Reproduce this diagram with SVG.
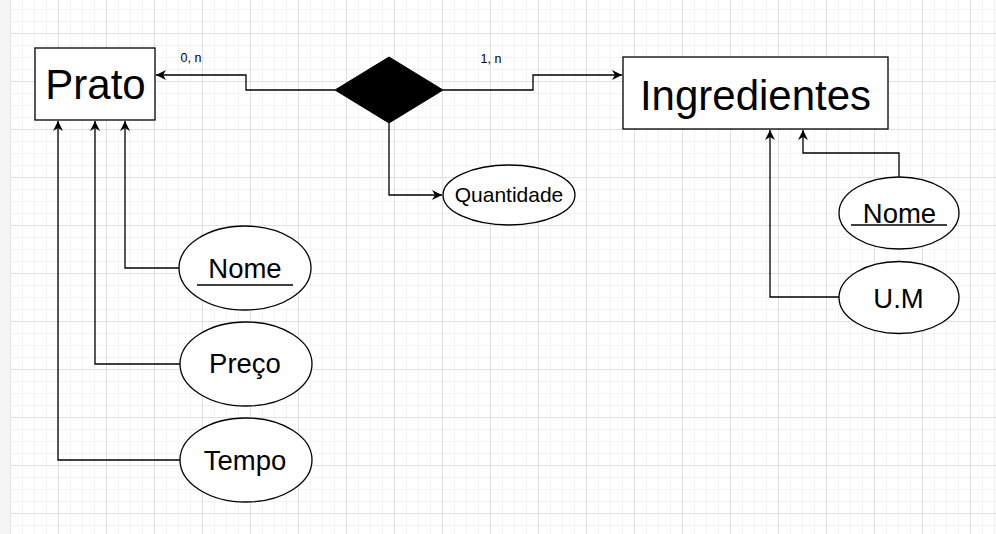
<svg xmlns="http://www.w3.org/2000/svg" width="996" height="534" viewBox="0 0 996 534">
<style>
.box{fill:#fff;stroke:#000;stroke-width:1.3}
.ell{fill:#fff;stroke:#000;stroke-width:1.3}
.conn{fill:none;stroke:#000;stroke-width:1.3}
text{font-family:"Liberation Sans",Arial,sans-serif;fill:#000;text-anchor:middle}
.big{font-size:42px}
.attr{font-size:27.5px}
.q{font-size:21px}
.card{font-size:12.5px}
</style>
<defs>
<pattern id="grid" x="10" y="33" width="48" height="48" patternUnits="userSpaceOnUse">
<path d="M12.5 0V48M24.5 0V48M36.5 0V48M0 12.5H48M0 24.5H48M0 36.5H48" stroke="#f3f3f3" stroke-width="1" fill="none"/>
<path d="M0.5 0V48M0 0.5H48" stroke="#e0e0e0" stroke-width="1" fill="none"/>
</pattern>
<marker id="arr" markerWidth="12" markerHeight="10" refX="10" refY="5" orient="auto" markerUnits="userSpaceOnUse">
<path d="M0,0 L10,5 L0,10 L3,5 Z" fill="#000"/>
</marker>
</defs>
<rect width="996" height="534" fill="#fff"/>
<rect width="996" height="534" fill="url(#grid)"/>
<rect x="0" y="0" width="10" height="534" fill="#f4f5f7"/>
<line x1="10.5" y1="0" x2="10.5" y2="534" stroke="#e6e6e6"/>

<g id="connectors">
<path class="conn" d="M335,90 H246 V75 H156" marker-end="url(#arr)"/>
<path class="conn" d="M443,90 H533 V75 H622" marker-end="url(#arr)"/>
<path class="conn" d="M389,123 V195 H442" marker-end="url(#arr)"/>
<path class="conn" d="M179,268 H125 V121" marker-end="url(#arr)"/>
<path class="conn" d="M180,364 H95 V121" marker-end="url(#arr)"/>
<path class="conn" d="M180,460 H58 V121" marker-end="url(#arr)"/>
<path class="conn" d="M899,177 V153 H803 V130" marker-end="url(#arr)"/>
<path class="conn" d="M839,297 H770 V130" marker-end="url(#arr)"/>
<text class="card" x="191" y="62">0, n</text>
<text class="card" x="491" y="63">1, n</text>
</g>

<g id="prato">
<rect class="box" x="35" y="48" width="120" height="72"/>
<text class="big" x="95.5" y="99">Prato</text>
</g>
<g id="relacao">
<polygon points="335,90 389,57 443,90 389,123" fill="#000" stroke="#000"/>
</g>
<g id="ingredientes">
<rect class="box" x="623" y="57" width="265" height="72"/>
<text class="big" x="755.5" y="110">Ingredientes</text>
</g>
<g id="quantidade">
<ellipse class="ell" cx="509" cy="195" rx="66" ry="30"/>
<text class="q" x="509" y="202">Quantidade</text>
</g>
<g id="nome-prato">
<ellipse class="ell" cx="245" cy="268" rx="66" ry="42"/>
<text class="attr" x="245" y="278">Nome</text>
<line x1="197" y1="285" x2="293" y2="285" stroke="#000" stroke-width="1.3"/>
</g>
<g id="preco">
<ellipse class="ell" cx="246" cy="364" rx="66" ry="42"/>
<text class="attr" x="245" y="373">Preço</text>
</g>
<g id="tempo">
<ellipse class="ell" cx="246" cy="460" rx="66" ry="42"/>
<text class="attr" x="245" y="470">Tempo</text>
</g>
<g id="nome-ingrediente">
<ellipse class="ell" cx="899" cy="213" rx="60" ry="36"/>
<text class="attr" x="899.5" y="223">Nome</text>
<line x1="851" y1="225" x2="947" y2="225" stroke="#000" stroke-width="1.3"/>
</g>
<g id="um">
<ellipse class="ell" cx="899" cy="297.5" rx="60" ry="36"/>
<text class="attr" x="898.5" y="308">U.M</text>
</g>
</svg>
